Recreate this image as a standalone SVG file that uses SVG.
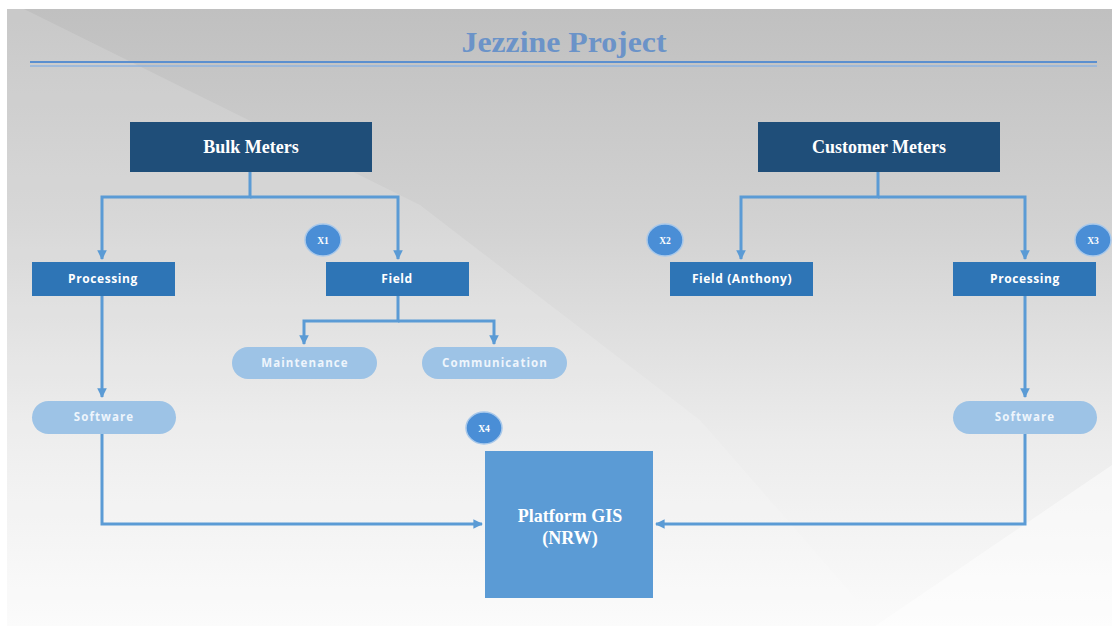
<svg xmlns="http://www.w3.org/2000/svg" width="1112" height="626" viewBox="0 0 1112 626">
  <defs>
    <linearGradient id="bg" x1="0" y1="0" x2="0" y2="1">
      <stop offset="0" stop-color="#c0c0c0"/>
      <stop offset="0.35" stop-color="#d2d2d2"/>
      <stop offset="0.7" stop-color="#ececec"/>
      <stop offset="1" stop-color="#fbfbfb"/>
    </linearGradient>
    <marker id="arrow" viewBox="0 0 10 10" refX="9" refY="5" markerWidth="3.2" markerHeight="3.2" orient="auto" markerUnits="strokeWidth">
      <path d="M0,0 L10,5 L0,10 z" fill="#5b9bd5"/>
    </marker>
    <style>
      .conn { fill: none; stroke: #5b9bd5; stroke-width: 3; }
      .head { fill: #1f4e79; }
      .sub { fill: #2e75b6; }
      .pill { fill: #9dc3e6; }
      .platform { fill: #5b9bd5; }
      .badge { fill: #4a8ed6; stroke: #a8c8ea; stroke-width: 1.5; }
      .serif { font-family: "Liberation Serif", "Times New Roman", serif; font-weight: bold; fill: #ffffff; text-anchor: middle; }
      .sans { font-family: "Open Sans", "Noto Sans", sans-serif; font-weight: bold; fill: #ffffff; text-anchor: middle; font-size: 12px; letter-spacing: 0.6px; }
      .pilltext { font-family: "Open Sans", "Noto Sans", sans-serif; font-weight: bold; fill: #eef5fc; text-anchor: middle; font-size: 11.5px; letter-spacing: 1.1px; }
      .badgetext { font-family: "Liberation Serif", "Times New Roman", serif; font-weight: bold; fill: #ffffff; text-anchor: middle; font-size: 9.5px; }
    </style>
  </defs>

  <!-- page background -->
  <rect x="0" y="0" width="1112" height="626" fill="#ffffff"/>
  <rect x="7" y="9" width="1105" height="617" fill="url(#bg)"/>
  <polygon points="7,9 24,9 420,205 700,420 880,626 7,626" fill="#ffffff" opacity="0.14"/>
  <polygon points="1112,465 1112,626 875,626" fill="#ffffff" opacity="0.45"/>

  <!-- title -->
  <g id="title">
    <text x="564" y="52" font-family="Liberation Serif, Times New Roman, serif" font-weight="bold" font-size="30" fill="#6b93c8" text-anchor="middle" textLength="205" lengthAdjust="spacingAndGlyphs">Jezzine Project</text>
    <line x1="30" y1="62" x2="1097" y2="62" stroke="#5b8fcf" stroke-width="2"/>
    <line x1="30" y1="66" x2="1097" y2="66" stroke="#8fb3df" stroke-width="1.5"/>
  </g>

  <!-- connectors -->
  <g id="connectors">
    <polyline class="conn" points="250,172 250,197 102,197 102,259" marker-end="url(#arrow)"/>
    <polyline class="conn" points="250,197 398,197 398,259" marker-end="url(#arrow)"/>
    <polyline class="conn" points="878,172 878,197 741,197 741,259" marker-end="url(#arrow)"/>
    <polyline class="conn" points="878,197 1025,197 1025,259" marker-end="url(#arrow)"/>
    <polyline class="conn" points="398,296 398,321 304,321 304,344" marker-end="url(#arrow)"/>
    <polyline class="conn" points="398,321 494,321 494,344" marker-end="url(#arrow)"/>
    <polyline class="conn" points="102,296 102,397" marker-end="url(#arrow)"/>
    <polyline class="conn" points="1025,296 1025,397" marker-end="url(#arrow)"/>
    <polyline class="conn" points="102,433 102,524 482,524" marker-end="url(#arrow)"/>
    <polyline class="conn" points="1025,433 1025,524 656,524" marker-end="url(#arrow)"/>
  </g>

  <!-- top-level meters -->
  <g id="bulk-meters">
    <rect class="head" x="130" y="122" width="242" height="50"/>
    <text class="serif" x="251" y="153" font-size="18">Bulk Meters</text>
  </g>
  <g id="customer-meters">
    <rect class="head" x="758" y="122" width="242" height="50"/>
    <text class="serif" x="879" y="153" font-size="18">Customer Meters</text>
  </g>

  <!-- second level -->
  <g id="processing-bulk">
    <rect class="sub" x="32" y="262" width="143" height="34"/>
    <text class="sans" x="103" y="283">Processing</text>
  </g>
  <g id="field-bulk">
    <rect class="sub" x="326" y="262" width="143" height="34"/>
    <text class="sans" x="397" y="283">Field</text>
  </g>
  <g id="field-anthony">
    <rect class="sub" x="670" y="262" width="143" height="34"/>
    <text class="sans" x="742" y="283">Field (Anthony)</text>
  </g>
  <g id="processing-customer">
    <rect class="sub" x="953" y="262" width="143" height="34"/>
    <text class="sans" x="1025" y="283">Processing</text>
  </g>

  <!-- field activities -->
  <g id="maintenance">
    <rect class="pill" x="232" y="347" width="145" height="32" rx="16"/>
    <text class="pilltext" x="305" y="367">Maintenance</text>
  </g>
  <g id="communication">
    <rect class="pill" x="422" y="347" width="145" height="32" rx="16"/>
    <text class="pilltext" x="495" y="367">Communication</text>
  </g>

  <!-- software -->
  <g id="software-bulk">
    <rect class="pill" x="32" y="401" width="144" height="33" rx="16.5"/>
    <text class="pilltext" x="104" y="421">Software</text>
  </g>
  <g id="software-customer">
    <rect class="pill" x="953" y="401" width="144" height="33" rx="16.5"/>
    <text class="pilltext" x="1025" y="421">Software</text>
  </g>

  <!-- platform -->
  <g id="platform-gis">
    <rect class="platform" x="485" y="451" width="168" height="147"/>
    <text class="serif" x="570" y="522" font-size="18">Platform GIS</text>
    <text class="serif" x="570" y="544" font-size="18">(NRW)</text>
  </g>

  <!-- badges -->
  <g id="badge-x1">
    <ellipse class="badge" cx="323" cy="240" rx="18" ry="16"/>
    <text class="badgetext" x="323" y="243.5">X1</text>
  </g>
  <g id="badge-x2">
    <ellipse class="badge" cx="665" cy="240" rx="18" ry="16"/>
    <text class="badgetext" x="665" y="243.5">X2</text>
  </g>
  <g id="badge-x3">
    <ellipse class="badge" cx="1093" cy="240" rx="18" ry="16"/>
    <text class="badgetext" x="1093" y="243.5">X3</text>
  </g>
  <g id="badge-x4">
    <ellipse class="badge" cx="484" cy="428" rx="18" ry="16"/>
    <text class="badgetext" x="484" y="431.5">X4</text>
  </g>
</svg>
